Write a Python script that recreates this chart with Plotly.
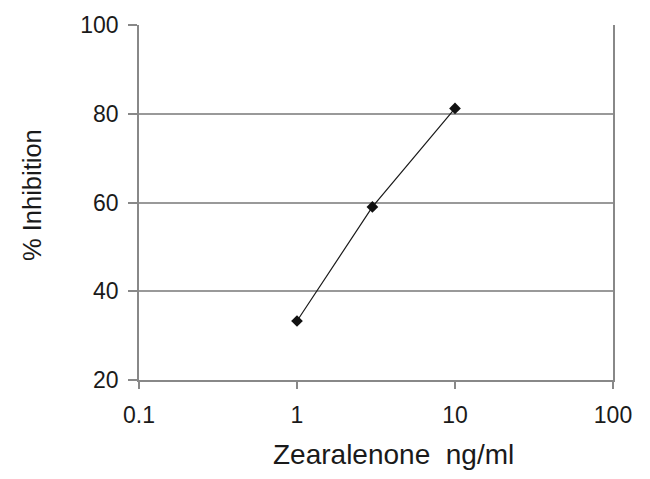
import plotly.graph_objects as go

concentration = [1, 3, 10]
inhibition = [33.3, 59.0, 81.2]
x_ticks = [0.1, 1, 10, 100]
x_tick_labels = ["0.1", "1", "10", "100"]
y_ticks = [20, 40, 60, 80, 100]
x_title = "Zearalenone\u00a0\u00a0ng/ml"
y_title = "% Inhibition"

fig = go.Figure()
fig.add_trace(go.Scatter(
    x=concentration, y=inhibition, mode="lines+markers",
    line=dict(color="#1a1a1a", width=1.2),
    marker=dict(symbol="diamond", size=9, color="#111111"),
    showlegend=False,
))

font_family = "Liberation Sans, Arial, sans-serif"
text_color = "#1a1a1a"
fig.update_layout(
    width=650, height=479,
    margin=dict(l=131, r=45, t=17, b=107, autoexpand=False),
    paper_bgcolor="white", plot_bgcolor="white",
    font=dict(family=font_family, color=text_color),
)
fig.update_xaxes(
    type="log", range=[-1, 2],
    tickvals=x_ticks, ticktext=x_tick_labels,
    ticks="outside", ticklen=7, tickcolor="#888888", tickwidth=1.5,
    showline=True, linecolor="#888888", linewidth=1.5, mirror=False,
    showgrid=False, zeroline=False,
    tickfont=dict(size=23, color=text_color),
    ticklabelstandoff=7,
)
fig.update_yaxes(
    range=[20, 100], tickvals=y_ticks,
    ticks="outside", ticklen=9, tickcolor="#888888", tickwidth=1.5,
    showline=True, linecolor="#888888", linewidth=1.5, mirror=True,
    showgrid=True, gridcolor="#999999", gridwidth=1.5, zeroline=False,
    tickfont=dict(size=23, color=text_color),
    ticklabelstandoff=5,
)
fig.add_annotation(
    text=x_title, xref="paper", yref="paper", x=0.536, y=0,
    xanchor="center", yanchor="middle", yshift=-74, showarrow=False,
    font=dict(size=28, color=text_color),
)
fig.add_annotation(
    text=y_title, xref="paper", yref="paper", x=0, y=0.521,
    xanchor="center", yanchor="middle", xshift=-107, textangle=-90,
    showarrow=False, font=dict(size=25.5, color=text_color),
)

fig.write_html("out.html")
